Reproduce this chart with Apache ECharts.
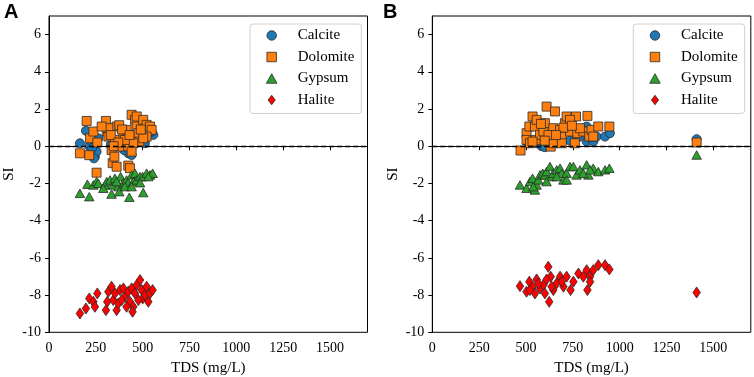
<!DOCTYPE html>
<html>
<head>
<meta charset="utf-8">
<script src="https://cdn.jsdelivr.net/npm/echarts@6/dist/echarts.min.js"></script>
<style>html,body{margin:0;padding:0;background:#fff}#c{width:754px;height:377px}</style>
</head>
<body>
<div id="c"></div>
<script>
// ---- data: [TDS (mg/L), SI] ----
const seriesNames = ['Calcite', 'Dolomite', 'Gypsum', 'Halite'];
const xTicks = [0, 250, 500, 750, 1000, 1250, 1500];
const yTicks = [-10, -8, -6, -4, -2, 0, 2, 4, 6];

const A_Calcite = [[165,0.16],[197,0.83],[215,0.0],[245,-0.56],[254,-0.29],[240,-0.65],[263,0.43],[230,-0.1],
  [330,0.1],[423,-0.38],[441,-0.47],[486,0.25],[512,0.16],[557,0.61],[548,0.79],[441,0.34],[460,0.5],[400,-0.2]];
const A_Dolomite = [[201,1.36],[165,-0.38],[215,-0.48],[219,0.43],[237,0.79],[258,0.2],[254,-1.42],[304,1.36],
  [308,0.79],[317,0.52],[334,-0.2],[340,-0.91],[349,-0.56],[361,-1.1],[352,0.34],[361,1.06],[375,1.13],[382,-0.02],
  [397,0.61],[414,0.88],[423,0.0],[423,-1.04],[432,-1.18],[441,1.69],[459,1.42],[468,1.6],[468,1.06],[477,0.7],
  [482,0.25],[503,1.42],[521,1.15],[539,1.06],[548,0.88],[521,0.52],[503,0.43],[450,0.16],[441,-0.29],[405,0.34],
  [317,0.97],[281,1.06],[330,0.6],[390,0.9],[430,0.6],[490,0.9],[370,0.2],[345,0.0]];
const A_Gypsum = [[165,-2.53],[205,-2.04],[215,-2.71],[237,-2.08],[254,-1.9],[263,-1.99],[299,-2.08],[308,-1.9],
  [326,-1.81],[334,-2.57],[343,-2.08],[352,-1.72],[370,-2.17],[375,-2.44],[382,-1.63],[397,-1.96],[414,-1.81],
  [423,-1.96],[429,-2.74],[441,-1.54],[450,-1.9],[459,-1.45],[468,-1.81],[486,-1.63],[500,-1.63],[503,-2.49],
  [521,-1.45],[539,-1.54],[553,-1.45],[290,-2.26],[405,-2.17],[441,-2.17],[361,-1.9],[486,-1.96],[530,-1.63]];
const A_Halite = [[165,-8.99],[197,-8.72],[215,-8.18],[237,-8.36],[245,-8.63],[258,-7.91],[304,-8.81],[311,-8.36],
  [317,-7.82],[334,-7.55],[343,-8.27],[352,-7.91],[361,-8.81],[370,-8.45],[379,-7.73],[397,-7.64],[405,-8.09],
  [423,-7.82],[432,-8.36],[441,-7.64],[450,-8.63],[459,-7.91],[468,-7.46],[486,-7.19],[495,-7.73],[500,-8.18],
  [512,-8.0],[521,-7.55],[530,-8.36],[539,-7.91],[553,-7.73],[388,-8.27],[414,-8.63],[477,-8.27],[446,-8.9]];

const B_Calcite = [[512,0.16],[584,0.0],[646,0.16],[691,0.34],[770,0.43],[824,0.25],[859,0.25],[877,0.52],
  [922,0.52],[948,0.7],[824,1.06],[1411,0.38],[557,0.16],[788,0.52],[600,-0.05],[735,0.3]];
const B_Dolomite = [[471,-0.23],[503,0.7],[503,0.34],[518,1.06],[535,1.6],[548,1.06],[557,1.42],[553,0.34],
  [575,0.61],[593,0.79],[610,2.13],[601,1.24],[628,0.52],[632,-0.02],[646,0.97],[655,1.87],[664,0.34],[682,0.88],
  [691,0.52],[708,1.24],[717,1.6],[735,0.79],[761,0.16],[767,1.6],[774,0.7],[806,0.79],[828,1.63],[838,0.52],
  [850,0.88],[859,0.52],[886,1.06],[945,1.06],[788,0.97],[735,1.42],[521,0.16],[535,0.25],[646,0.16],[691,0.16],
  [1411,0.2],[580,1.2],[620,0.6],[700,1.0],[660,0.6],[745,1.1],[600,0.3]];
const B_Gypsum = [[468,-2.08],[503,-2.26],[521,-1.9],[535,-1.72],[548,-2.35],[557,-2.08],[566,-1.81],[575,-1.54],
  [589,-1.45],[601,-1.54],[610,-1.36],[628,-1.09],[637,-1.63],[646,-1.45],[664,-1.27],[682,-1.18],[691,-1.45],
  [700,-1.81],[717,-1.45],[735,-1.09],[753,-1.09],[770,-1.54],[788,-1.27],[824,-1.0],[833,-1.54],[859,-1.18],
  [886,-1.36],[922,-1.27],[945,-1.18],[1411,-0.47],[539,-2.17],[610,-1.9],[664,-1.63],[717,-1.81],[806,-1.45],[842,-1.27]];
const B_Halite = [[468,-7.52],[503,-7.82],[518,-7.28],[535,-7.55],[548,-7.91],[557,-7.16],[575,-7.64],[593,-7.46],
  [601,-7.91],[619,-6.48],[624,-8.36],[632,-7.01],[646,-7.73],[664,-7.37],[682,-7.01],[700,-7.55],[717,-7.01],
  [738,-7.73],[753,-7.28],[780,-6.84],[806,-7.01],[824,-6.66],[828,-7.73],[842,-7.01],[859,-6.66],[886,-6.39],
  [922,-6.39],[945,-6.62],[1411,-7.86],[610,-7.16],[637,-7.55],[691,-7.28],[842,-7.28],[521,-7.73],[566,-7.37]];

// ---- styles ----
const serif = "'Times New Roman','Liberation Serif',serif";
const colors = {Calcite:'#1f77b4', Dolomite:'#ff7f0e', Gypsum:'#2ca02c', Halite:'#ff0000'};
const symbols = {Calcite:'circle', Dolomite:'rect', Gypsum:'triangle', Halite:'diamond'};
const sizes = {Calcite:9, Dolomite:9, Gypsum:[9.5,8.5], Halite:[7.5,11]};
const legendIcons = {
  Calcite:'circle',
  Dolomite:'path://M0,0L1,0L1,1L0,1Z',
  Gypsum:'path://M0.5,0L1,0.9L0,0.9Z',
  Halite:'path://M0,-1L0.75,0L0,1L-0.75,0Z'
};

const panels = [
  {data:{Calcite:A_Calcite, Dolomite:A_Dolomite, Gypsum:A_Gypsum, Halite:A_Halite}, left:49},
  {data:{Calcite:B_Calcite, Dolomite:B_Dolomite, Gypsum:B_Gypsum, Halite:B_Halite}, left:432.3}
];

const grids = [], xAxes = [], yAxes = [], series = [], legends = [];
panels.forEach((p, i) => {
  grids.push({left:p.left, top:16, width:318.5, height:316.3, show:true, borderColor:'#000', borderWidth:1,
    backgroundColor:'transparent', outerBoundsMode:'none', containLabel:false});
  xAxes.push({type:'value', gridIndex:i, min:0, max:1700,
    name:'TDS (mg/L)', nameLocation:'middle', nameGap:27,
    nameTextStyle:{fontFamily:serif, fontSize:15, color:'#000'},
    splitLine:{show:false},
    axisLine:{show:true, lineStyle:{color:'#000', width:1}},
    axisTick:{show:true, length:4, lineStyle:{color:'#000'}, customValues:xTicks},
    axisLabel:{fontFamily:serif, fontSize:14, color:'#000', margin:9, customValues:xTicks, formatter:v => String(v)}
  });
  yAxes.push({type:'value', gridIndex:i, min:-10, max:7,
    name:'SI', nameLocation:'middle', nameGap:32,
    nameTextStyle:{fontFamily:serif, fontSize:15, color:'#000'},
    splitLine:{show:false},
    axisLine:{show:true, lineStyle:{color:'#000', width:1}},
    axisTick:{show:true, length:4, lineStyle:{color:'#000'}, customValues:yTicks},
    axisLabel:{fontFamily:serif, fontSize:14, color:'#000', margin:8, customValues:yTicks, formatter:v => String(v)}
  });
  seriesNames.forEach((n, k) => {
    const s = {
      type:'scatter', name:n, xAxisIndex:i, yAxisIndex:i, data:p.data[n],
      symbol:symbols[n], symbolSize:sizes[n], z:2+k,
      itemStyle:{color:colors[n], borderColor:'#2a2a2a', borderWidth:0.8, opacity:1},
      emphasis:{disabled:true}
    };
    if (k === 0) {
      s.markLine = {silent:true, symbol:'none', label:{show:false},
        lineStyle:{color:'#000', type:[5,3], width:1.3}, data:[{yAxis:0}], animation:false};
    }
    series.push(s);
  });
  legends.push({
    orient:'vertical', left:p.left + 201, top:24,
    padding:[3,7,5,16], itemGap:4.5, itemWidth:42, itemHeight:9.5,
    backgroundColor:'#fff', borderColor:'#d0d0d0', borderWidth:1, borderRadius:3,
    selectedMode:false,
    textStyle:{fontFamily:serif, fontSize:15, color:'#000', lineHeight:17},
    itemStyle:{borderColor:'#2a2a2a', borderWidth:0.8},
    data:seriesNames.map(n => ({name:n, icon:legendIcons[n]}))
  });
});

const chart = echarts.init(document.getElementById('c'), null, {renderer:'canvas'});
chart.setOption({
  animation:false,
  backgroundColor:'#fff',
  grid:grids, xAxis:xAxes, yAxis:yAxes, series:series, legend:legends,
  graphic:[
    {type:'text', left:4, top:2, style:{text:'A', font:"bold 20px 'Liberation Sans', Arial, sans-serif", fill:'#000'}},
    {type:'text', left:383, top:2, style:{text:'B', font:"bold 20px 'Liberation Sans', Arial, sans-serif", fill:'#000'}}
  ]
});
</script>
</body>
</html>
